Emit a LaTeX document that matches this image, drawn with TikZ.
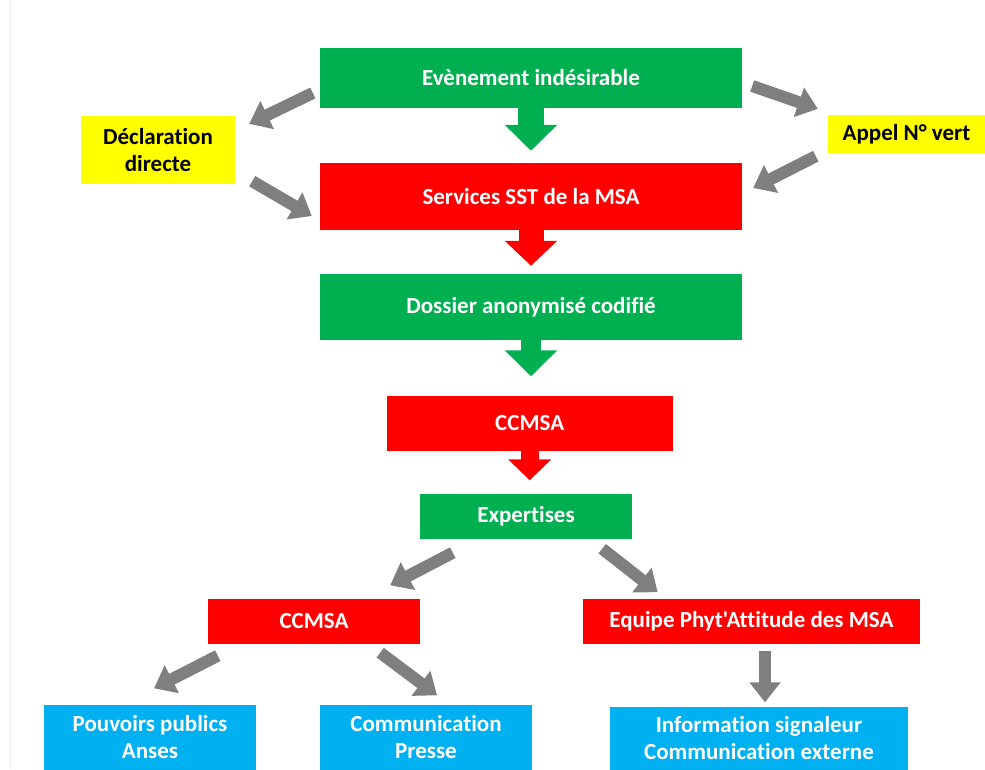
\documentclass[tikz,border=0pt]{standalone}
\usepackage{fontspec}
\setmainfont{Carlito}[Ligatures={NoCommon,TeXOff}]
\usetikzlibrary{arrows.meta}
\pgfdeclarelayer{edgelayer}
\pgfdeclarelayer{nodelayer}
\pgfsetlayers{edgelayer,nodelayer,main}
\definecolor{msagreen}{HTML}{00B050}
\definecolor{msared}{HTML}{FF0000}
\definecolor{msayellow}{HTML}{FFFF00}
\definecolor{msablue}{HTML}{00B0F0}
\definecolor{msagray}{HTML}{7F7F7F}
\tikzstyle{box}=[rectangle,inner sep=0pt,align=center,text=white,font=\fontsize{23}{27.5}\selectfont\bfseries]
\tikzstyle{greenbox}=[box,fill=msagreen]
\tikzstyle{redbox}=[box,fill=msared]
\tikzstyle{yellowbox}=[box,fill=msayellow,text=black]
\tikzstyle{bluebox}=[box,fill=msablue]
\tikzstyle{greenarrow}=[draw=msagreen,line width=26pt,-{Triangle[width=51pt,length=26pt]}]
\tikzstyle{redarrow}=[draw=msared,line width=25pt,-{Triangle[width=51pt,length=25pt]}]
\tikzstyle{grayarrow}=[draw=msagray,line width=12pt,-{Triangle[width=30pt,length=20pt]}]

\begin{document}
\begin{tikzpicture}[x=1pt,y=-1pt]
	\useasboundingbox (0,0) rectangle (985,769);
	\draw [black!8] (10,0) -- (10,769);
	\begin{pgfonlayer}{nodelayer}
		\node [style=greenbox, minimum width=422pt, minimum height=60pt] (0) at (531, 78) {Evènement indésirable};
		\node [style=yellowbox, minimum width=154pt, minimum height=68pt] (1) at (158, 150) {Déclaration\\directe};
		\node [style=yellowbox, minimum width=157pt, minimum height=38pt] (2) at (906.5, 134) {Appel N° vert};
		\node [style=redbox, minimum width=422pt, minimum height=67pt] (3) at (531, 196.5) {Services SST de la MSA};
		\node [style=greenbox, minimum width=422pt, minimum height=66pt] (4) at (531, 307) {Dossier anonymisé codifié};
		\node [style=redbox, minimum width=286pt, minimum height=55pt] (5) at (529.7, 423) {CCMSA};
		\node [style=greenbox, minimum width=212pt, minimum height=45pt] (6) at (526, 516) {Expertises};
		\node [style=redbox, minimum width=212pt, minimum height=45pt] (7) at (314, 621) {CCMSA};
		\node [style=redbox, minimum width=337pt, minimum height=45pt] (8) at (751.4, 621) {Equipe Phyt'Attitude des MSA};
		\node [style=bluebox, minimum width=212pt, minimum height=65pt] (9) at (150, 737) {Pouvoirs publics\\Anses};
		\node [style=bluebox, minimum width=212pt, minimum height=65pt] (10) at (426, 737) {Communication\\Presse};
		\node [style=bluebox, minimum width=298pt, minimum height=63pt] (11) at (759, 738) {Information signaleur\\Communication externe};
	\end{pgfonlayer}
	\begin{pgfonlayer}{edgelayer}
		\draw [style=greenarrow, shorten >=12pt] (0) to (3);
		\draw [style=redarrow, shorten >=8pt] (3) to (4);
		\draw [style=greenarrow, line width=20pt, shorten >=19pt] (4) to (4 |- 5.north);
		\draw [style=redarrow, line width=18pt, -{Triangle[width=42pt,length=21pt]}, shorten >=13pt] (5) to (5 |- 6.north);
		\draw [style=grayarrow] ([shift={(-7,15)}]0.west) to ([shift={(14,8)}]1.north east);
		\draw [style=grayarrow] ([shift={(17,-3)}]1.south east) to ([shift={(-8,19.5)}]3.west);
		\draw [style=grayarrow] ([shift={(10,8)}]0.east) to ([shift={(-10,-6)}]2.north west);
		\draw [style=grayarrow] ([shift={(-12,3)}]2.south west) to ([shift={(11,-8.5)}]3.east);
		\draw [style=grayarrow] ([shift={(33,14)}]6.south west) to ([shift={(-30,-13)}]7.north east);
		\draw [style=grayarrow] ([shift={(-30,10)}]6.south east) to ([shift={(75,-6)}]8.north west);
		\draw [style=grayarrow] ([shift={(10,12)}]7.south west) to ([shift={(4,-16)}]9.north);
		\draw [style=grayarrow] ([shift={(-40,9)}]7.south east) to ([shift={(11,-9)}]10.north);
		\draw [style=grayarrow] ([shift={(13.6,7)}]8.south) to ([shift={(6,-4)}]11.north);
	\end{pgfonlayer}
\end{tikzpicture}
\end{document}
